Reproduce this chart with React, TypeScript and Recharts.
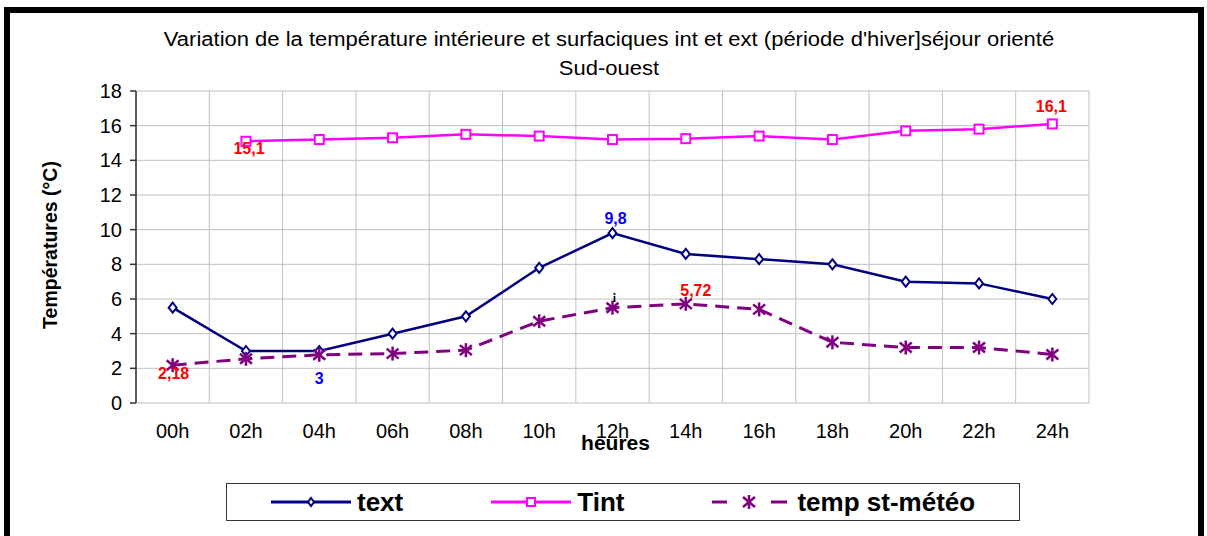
import React from "react";
import { LineChart, Line, XAxis, YAxis, CartesianGrid } from "recharts";

// hours of the day (categories)
const hours = ["00h", "02h", "04h", "06h", "08h", "10h", "12h", "14h", "16h", "18h", "20h", "22h", "24h"];

// series
const textValues = [5.5, 3.0, 3.0, 4.0, 5.0, 7.8, 9.8, 8.6, 8.3, 8.0, 7.0, 6.9, 6.0];
const tintValues = [null, 15.1, 15.2, 15.3, 15.5, 15.4, 15.2, 15.25, 15.4, 15.2, 15.7, 15.8, 16.1];
const tempValues = [2.18, 2.55, 2.78, 2.85, 3.05, 4.72, 5.5, 5.72, 5.4, 3.5, 3.2, 3.2, 2.8];

// point labels as shown in the picture
const textLabels = ["", "", "3", "", "", "", "9,8", "", "", "", "", "", ""];
const tintLabels = ["", "15,1", "", "", "", "", "", "", "", "", "", "", "16,1"];
const tempLabels = ["2,18", "", "", "", "", "", "¡", "5,72", "", "", "", "", ""];

const yTicks = [0, 2, 4, 6, 8, 10, 12, 14, 16, 18];

const data = hours.map((h, i) => ({
  x: i,
  hour: h,
  text: textValues[i],
  tint: tintValues[i],
  temp: tempValues[i],
}));

const FONT = "'Liberation Sans', Arial, sans-serif";
const NAVY = "#000080";
const MAGENTA = "#FF00FF";
const PURPLE = "#800080";

// label offsets from the point, per index
const textOffsets: Record<number, [number, number]> = { 2: [0, 27], 6: [3, -15] };
const tintOffsets: Record<number, [number, number]> = { 1: [3, 7], 12: [-1, -17] };
const tempOffsets: Record<number, [number, number]> = { 0: [1, 8], 6: [2, -12], 7: [10, -13] };

const labelColor = (series: string, t: string) => {
  if (t === "¡") return "#000";
  return series === "text" ? "#0000FF" : "#FF0000";
};

const renderLabel = (series: string, labels: string[], offsets: Record<number, [number, number]>, cx: number, cy: number, index: number) => {
  const t = labels[index];
  if (!t) return null;
  const [dx, dy] = offsets[index] ?? [0, -14];
  return (
    <text
      x={cx + dx}
      y={cy + dy}
      textAnchor="middle"
      dominantBaseline="central"
      fill={labelColor(series, t)}
      fontFamily={FONT}
      fontWeight="bold"
      fontSize={t === "¡" ? 13 : 16}
    >
      {t}
    </text>
  );
};

const DiamondDot = (props: any) => {
  const { cx, cy, index } = props;
  if (cx == null || cy == null) return <g key={`d${index}`} />;
  return (
    <g key={`d${index}`}>
      <polygon
        points={`${cx},${cy - 5} ${cx + 4},${cy} ${cx},${cy + 5} ${cx - 4},${cy}`}
        fill="#fff"
        stroke={NAVY}
        strokeWidth={2}
      />
      {renderLabel("text", textLabels, textOffsets, cx, cy, index)}
    </g>
  );
};

const SquareDot = (props: any) => {
  const { cx, cy, index } = props;
  if (cx == null || cy == null || props.value == null) return <g key={`s${index}`} />;
  return (
    <g key={`s${index}`}>
      <rect x={cx - 4.5} y={cy - 4.5} width={9} height={9} fill="#fff" stroke={MAGENTA} strokeWidth={2} />
      {renderLabel("tint", tintLabels, tintOffsets, cx, cy, index)}
    </g>
  );
};

const StarDot = (props: any) => {
  const { cx, cy, index } = props;
  if (cx == null || cy == null) return <g key={`t${index}`} />;
  return (
    <g key={`t${index}`}>
      <g stroke={PURPLE} strokeWidth={2.5}>
        <line x1={cx} y1={cy - 7} x2={cx} y2={cy + 7} />
        <line x1={cx - 6} y1={cy - 5} x2={cx + 6} y2={cy + 5} />
        <line x1={cx - 6} y1={cy + 5} x2={cx + 6} y2={cy - 5} />
      </g>
      {renderLabel("temp", tempLabels, tempOffsets, cx, cy, index)}
    </g>
  );
};

const legendItems = [
  { name: "text", kind: "diamond" },
  { name: "Tint", kind: "square" },
  { name: "temp st-météo", kind: "star" },
];

const LegendIcon = ({ kind }: { kind: string }) => {
  if (kind === "diamond")
    return (
      <svg width={80} height={14}>
        <line x1={0} y1={7} x2={80} y2={7} stroke={NAVY} strokeWidth={3} />
        <polygon points="40,3 43,7 40,11 37,7" fill="#fff" stroke={NAVY} strokeWidth={2} />
      </svg>
    );
  if (kind === "square")
    return (
      <svg width={80} height={14}>
        <line x1={0} y1={7} x2={80} y2={7} stroke={MAGENTA} strokeWidth={3} />
        <rect x={36} y={3} width={8} height={8} fill="#fff" stroke={MAGENTA} strokeWidth={2} />
      </svg>
    );
  return (
    <svg width={75} height={18}>
      <g stroke={PURPLE} strokeWidth={3}>
        <line x1={0} y1={9} x2={15} y2={9} />
        <line x1={59} y1={9} x2={75} y2={9} />
      </g>
      <g stroke={PURPLE} strokeWidth={2.5}>
        <line x1={37} y1={2} x2={37} y2={16} />
        <line x1={31} y1={4} x2={43} y2={14} />
        <line x1={31} y1={14} x2={43} y2={4} />
      </g>
    </svg>
  );
};

export default function App() {
  return (
    <div style={{ position: "absolute", left: 0, top: 0, width: 1207, height: 536, background: "#fff", overflow: "hidden", fontFamily: FONT }}>
      <div
        style={{
          position: "absolute",
          left: 4,
          top: 7,
          width: 1200,
          height: 580,
          border: "6px solid #000",
          boxSizing: "border-box",
        }}
      />
      <div
        style={{
          position: "absolute",
          left: 109,
          width: 1000,
          top: 25,
          textAlign: "center",
          fontSize: 20,
          lineHeight: "29px",
          color: "#000",
          whiteSpace: "nowrap",
          transform: "scaleX(1.1)",
          transformOrigin: "center",
        }}
      >
        <div>Variation de la température intérieure et surfaciques int et ext (période d'hiver]séjour orienté</div>
        <div>Sud-ouest</div>
      </div>
      <div style={{ position: "absolute", left: 0, top: 0 }}>
        <LineChart width={1207} height={536} data={data} margin={{ top: 91, right: 118, left: 46, bottom: 93 }}>
          <CartesianGrid xAxisId="grid" stroke="#c0c0c0" strokeWidth={1} />
          <XAxis
            xAxisId="grid"
            dataKey="x"
            type="number"
            domain={[-0.5, 12.5]}
            ticks={hours.map((_, i) => i - 0.5).concat(12.5)}
            tickFormatter={() => ""}
            tickSize={6}
            height={0}
            stroke="#333"
            strokeWidth={1.5}
            tick={{ fill: "#000" }}
          />
          <XAxis
            dataKey="x"
            type="number"
            domain={[-0.5, 12.5]}
            ticks={hours.map((_, i) => i)}
            tickFormatter={(v: number) => hours[v] ?? ""}
            axisLine={false}
            tickLine={false}
            tickSize={0}
            tickMargin={21}
            height={40}
            tick={{ fill: "#000", fontSize: 20, fontFamily: FONT }}
            label={{
              value: "heures",
              position: "insideTop",
              offset: 32,
              dx: 3,
              fill: "#000",
              fontSize: 21,
              fontWeight: "bold",
              fontFamily: FONT,
            }}
          />
          <YAxis
            type="number"
            domain={[0, 18]}
            ticks={yTicks}
            width={90}
            tickSize={6}
            tickMargin={8}
            stroke="#333"
            strokeWidth={1.5}
            tick={{ fill: "#000", fontSize: 20, fontFamily: FONT }}
            label={{
              value: "Températures (°C)",
              angle: -90,
              position: "insideLeft",
              offset: 4,
              dy: -2,
              fill: "#000",
              fontSize: 19.5,
              fontWeight: "bold",
              fontFamily: FONT,
              style: { textAnchor: "middle" },
            }}
          />
          <Line
            dataKey="text"
            stroke={NAVY}
            strokeWidth={2.5}
            dot={DiamondDot}
            activeDot={false}
            isAnimationActive={false}
          />
          <Line
            dataKey="tint"
            stroke={MAGENTA}
            strokeWidth={2.5}
            dot={SquareDot}
            activeDot={false}
            isAnimationActive={false}
          />
          <Line
            dataKey="temp"
            stroke={PURPLE}
            strokeWidth={3}
            strokeDasharray="14 8"
            dot={StarDot}
            activeDot={false}
            isAnimationActive={false}
          />
        </LineChart>
      </div>
      <div
        style={{
          position: "absolute",
          left: 226,
          top: 483,
          width: 794,
          height: 38,
          border: "1px solid #333",
          boxSizing: "border-box",
          display: "flex",
          alignItems: "center",
          paddingLeft: 44,
          gap: 88,
        }}
      >
        {legendItems.map((it) => (
          <div key={it.name} style={{ display: "flex", alignItems: "center", gap: it.kind === "star" ? 10 : 6 }}>
            <LegendIcon kind={it.kind} />
            <span style={{ fontSize: 26, fontWeight: "bold", color: "#000", lineHeight: "30px" }}>{it.name}</span>
          </div>
        ))}
      </div>
    </div>
  );
}
